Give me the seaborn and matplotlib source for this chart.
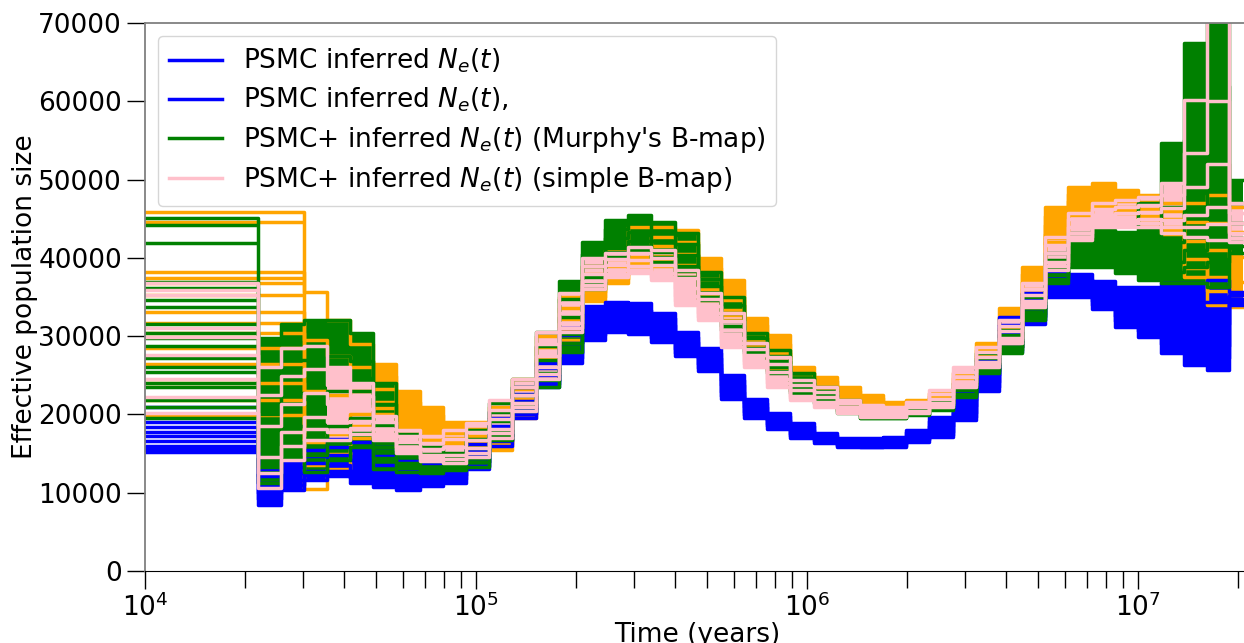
import numpy as np
import pandas as pd
import matplotlib
matplotlib.use("Agg")
import matplotlib.pyplot as plt
import seaborn as sns
from matplotlib.lines import Line2D

# --- DATA ---
# step edges in years, one more than the number of steps
EDGES = [10000, 21900, 25700, 30200, 35500, 41700, 49000, 57500, 67600, 79400,
         93300, 109600, 128800, 151400, 177800, 208900, 245500, 288400, 338800,
         398100, 467700, 549500, 645700, 758600, 891300, 1047000, 1230000,
         1445000, 1698000, 1995000, 2344000, 2754000, 3236000, 3802000, 4467000,
         5248000, 6166000, 7244000, 8511000, 10000000, 11750000, 13800000,
         16220000, 18800000, 20700000]

# one row per time step, one column per bootstrap replicate
BLUE_STEPS = [
    [15400, 16600, 17700, 18400, 19000, 15900],
    [8400, 10000, 11200, 12100, 13000, 9200],
    [10400, 11600, 12500, 13300, 14000, 11000],
    [11600, 12800, 13800, 14700, 15500, 12200],
    [12100, 13500, 14800, 15900, 16800, 12800],
    [11300, 12800, 14200, 15400, 16500, 11900],
    [10700, 12100, 13500, 14700, 15800, 11300],
    [10400, 11800, 13000, 14100, 15100, 11000],
    [10800, 11900, 12900, 13800, 14600, 11300],
    [11300, 12200, 13000, 13800, 14500, 11700],
    [13000, 13900, 14700, 15500, 16200, 13400],
    [16000, 17300, 18500, 19500, 20500, 16600],
    [19500, 20700, 21700, 22600, 23500, 20100],
    [23500, 24300, 25100, 25900, 26600, 23900],
    [26600, 27900, 29100, 30200, 31100, 27200],
    [29500, 30800, 31900, 32900, 33800, 30100],
    [30500, 31700, 32700, 33600, 34400, 31100],
    [30300, 31500, 32500, 33400, 34200, 30900],
    [29300, 30400, 31400, 32300, 33000, 29800],
    [27500, 28400, 29200, 29900, 30500, 27900],
    [25500, 26400, 27200, 27900, 28500, 25900],
    [22000, 22900, 23700, 24400, 25000, 22400],
    [19500, 20300, 21000, 21500, 22000, 19900],
    [18200, 18800, 19300, 19800, 20200, 18500],
    [17000, 17500, 18000, 18500, 18900, 17300],
    [16400, 16800, 17100, 17400, 17600, 16600],
    [15800, 16100, 16400, 16700, 17000, 16000],
    [15800, 16100, 16400, 16700, 17000, 15900],
    [15800, 16200, 16500, 16800, 17100, 16000],
    [16500, 16900, 17300, 17700, 18000, 16700],
    [17100, 17800, 18500, 19100, 19700, 17400],
    [19300, 20200, 21100, 21900, 22700, 19700],
    [23000, 24100, 25100, 26100, 27000, 23500],
    [28000, 29200, 30300, 31400, 32500, 28600],
    [31500, 32600, 33600, 34600, 35500, 32000],
    [35000, 35900, 36700, 37500, 38300, 35400],
    [35000, 35800, 36600, 37300, 38000, 35400],
    [33500, 34500, 35400, 36200, 37000, 34000],
    [31200, 32600, 33900, 35100, 36300, 31900],
    [29900, 31600, 33200, 34800, 36300, 30700],
    [27800, 30200, 32400, 34600, 36800, 29000],
    [26300, 29100, 31700, 34300, 36800, 27700],
    [25700, 28800, 31600, 34400, 37200, 27200],
    [34000, 34400, 34800, 35200, 35600, 34200],
]

ORANGE_STEPS = [
    [19900, 24000, 30400, 38200, 45900, 33100],
    [19900, 24000, 30400, 38200, 45900, 33100],
    [19900, 24000, 30400, 38200, 45900, 33100],
    [10500, 16500, 23000, 29500, 35600, 13500],
    [13000, 17500, 22500, 27500, 32000, 15000],
    [17000, 20000, 23000, 26000, 29000, 18500],
    [20000, 21600, 23200, 24900, 26500, 20800],
    [17500, 18900, 20200, 21600, 23000, 18200],
    [16700, 17800, 18900, 19900, 21000, 17200],
    [16300, 17000, 17600, 18300, 19000, 16600],
    [15500, 16400, 17200, 18100, 19000, 15900],
    [15500, 16900, 18200, 19600, 21000, 16200],
    [19500, 20700, 22000, 23200, 24500, 20100],
    [24500, 25900, 27200, 28600, 30000, 25200],
    [29500, 30900, 32200, 33600, 35000, 30200],
    [34500, 35600, 36700, 37900, 39000, 35000],
    [36800, 37800, 38900, 39900, 41000, 37300],
    [38500, 39300, 40100, 41000, 44000, 38900],
    [39000, 40200, 41500, 42700, 44000, 39600],
    [37600, 39100, 40500, 42000, 43500, 38300],
    [34600, 36000, 37300, 38700, 40000, 35300],
    [32100, 33400, 34600, 35900, 37200, 32700],
    [28600, 29500, 30400, 31400, 32300, 29000],
    [25700, 26800, 27900, 29000, 30100, 26200],
    [23100, 23800, 24600, 25300, 26100, 23400],
    [22700, 23200, 23700, 24300, 24800, 22900],
    [21500, 22000, 22500, 23000, 23500, 21700],
    [20800, 21200, 21600, 22100, 22500, 21000],
    [20300, 20600, 20900, 21300, 21600, 20400],
    [20600, 20900, 21200, 21500, 21800, 20700],
    [21500, 21800, 22100, 22400, 22700, 21600],
    [22700, 23300, 24000, 24600, 25300, 23000],
    [25700, 26500, 27400, 28200, 29100, 26100],
    [28600, 29800, 31100, 32300, 33600, 29200],
    [35000, 36000, 36900, 37900, 38800, 35500],
    [42000, 43100, 44200, 45400, 46500, 42500],
    [45500, 46400, 47200, 48100, 49000, 45900],
    [46500, 47300, 48000, 48800, 49600, 46900],
    [45700, 46500, 47200, 48000, 48700, 46100],
    [44500, 45400, 46200, 47100, 48000, 44900],
    [43000, 44000, 45000, 46000, 47000, 43500],
    [37500, 39900, 42200, 44600, 47000, 38700],
    [34000, 37500, 41000, 44500, 48000, 35800],
    [33700, 36900, 40100, 43300, 46500, 35300],
]

GREEN_STEPS = [
    [19500, 24000, 30400, 36100, 45100, 27200],
    [11200, 15500, 20000, 25000, 29800, 13300],
    [14600, 18500, 22700, 27000, 31600, 16500],
    [12600, 17000, 22000, 27000, 32000, 14800],
    [14200, 18500, 23000, 27500, 32000, 16300],
    [15800, 19500, 23000, 26800, 30400, 17600],
    [13000, 15800, 18600, 21300, 24000, 14400],
    [12600, 13800, 15000, 16300, 17500, 13200],
    [12500, 13300, 14100, 15000, 15800, 12900],
    [12900, 13500, 14000, 14600, 15100, 13200],
    [13300, 14500, 15700, 16900, 18000, 13900],
    [16700, 17900, 19100, 20300, 21500, 17300],
    [20500, 21500, 22500, 23500, 24500, 21000],
    [23500, 25300, 27000, 28800, 30500, 24400],
    [28000, 30300, 32500, 34800, 37000, 29100],
    [36000, 37500, 39000, 40500, 42000, 36700],
    [40100, 41300, 42500, 43700, 44800, 40700],
    [41000, 42100, 43300, 44400, 45500, 41500],
    [39500, 40800, 42100, 43400, 44600, 40100],
    [37600, 39000, 40400, 41800, 43200, 38300],
    [34600, 35500, 36400, 37300, 38200, 35000],
    [30800, 31900, 32900, 34000, 35000, 31300],
    [27800, 28500, 29100, 29800, 30400, 28100],
    [25300, 26000, 26800, 27500, 28200, 25600],
    [22700, 23400, 24000, 24700, 25300, 23000],
    [21500, 22000, 22500, 23000, 23500, 21700],
    [20200, 20600, 21000, 21400, 21800, 20400],
    [19500, 19800, 20000, 20300, 20600, 19600],
    [19500, 19700, 20000, 20200, 20500, 19600],
    [19900, 20100, 20400, 20600, 20900, 20000],
    [20600, 20900, 21200, 21500, 21800, 20700],
    [22200, 22600, 23100, 23500, 24000, 22400],
    [25300, 25900, 26500, 27200, 27800, 25600],
    [27800, 28600, 29300, 30100, 30800, 28200],
    [32100, 32800, 33600, 34300, 35000, 32400],
    [36800, 37800, 38700, 39700, 40600, 37300],
    [38800, 39900, 41000, 42100, 43200, 39300],
    [38800, 40000, 41200, 42300, 43500, 39400],
    [38100, 39400, 40700, 42000, 43300, 38700],
    [37200, 38900, 40600, 42300, 47000, 38000],
    [36800, 39500, 42000, 46500, 54700, 38200],
    [36800, 41000, 46000, 55000, 67400, 38800],
    [36300, 43000, 52000, 62000, 75000, 39500],
    [40600, 42500, 44500, 47000, 50000, 41500],
]

PINK_STEPS = [
    [20200, 22200, 27600, 35300, 36800, 29900],
    [10600, 14500, 18500, 22500, 26100, 12500],
    [14200, 17800, 21300, 24900, 28500, 16000],
    [16700, 19700, 22700, 25800, 28800, 18200],
    [16700, 19000, 21300, 23700, 26000, 17800],
    [17500, 19100, 20700, 22400, 24000, 18300],
    [16700, 17500, 18200, 19000, 19800, 17100],
    [15100, 15800, 16500, 17300, 18000, 15400],
    [14000, 14800, 15600, 16400, 17200, 14400],
    [13800, 14800, 15900, 16900, 18000, 14300],
    [14600, 15700, 16700, 17800, 18900, 15100],
    [17000, 18200, 19400, 20600, 21800, 17600],
    [20500, 21500, 22500, 23500, 24500, 21000],
    [24500, 26000, 27500, 29000, 30500, 25200],
    [30500, 31700, 33000, 34200, 35500, 31100],
    [36000, 37000, 38000, 39000, 40000, 36500],
    [37600, 38400, 39100, 39900, 40600, 38000],
    [38100, 38900, 39700, 40600, 41400, 38500],
    [37200, 38100, 39100, 40000, 41000, 37600],
    [34000, 35100, 36200, 37400, 38500, 34500],
    [32100, 33000, 33800, 34700, 35500, 32500],
    [28600, 29700, 30800, 31900, 33000, 29100],
    [26100, 26800, 27600, 28300, 29100, 26400],
    [23500, 24500, 25400, 26400, 27300, 24000],
    [21800, 22400, 23100, 23700, 24400, 22100],
    [21000, 21600, 22200, 22900, 23500, 21300],
    [20200, 20600, 21000, 21400, 21800, 20400],
    [19700, 20100, 20400, 20800, 21200, 19900],
    [19700, 20000, 20300, 20600, 20900, 19800],
    [20200, 20500, 20900, 21200, 21600, 20300],
    [21000, 21500, 22000, 22600, 23100, 21200],
    [23500, 24100, 24800, 25400, 26100, 23800],
    [26100, 26700, 27300, 28000, 28600, 26400],
    [29100, 29800, 30600, 31300, 32100, 29500],
    [33700, 34500, 35200, 36000, 36800, 34100],
    [38500, 39500, 40600, 41600, 42700, 39000],
    [42300, 43200, 44000, 44900, 45700, 42700],
    [44000, 44700, 45500, 46200, 47000, 44400],
    [44000, 44800, 45700, 46500, 47400, 44400],
    [44000, 44900, 45900, 46800, 47800, 44500],
    [43200, 44800, 46400, 48000, 49600, 44000],
    [42700, 45500, 49000, 53400, 60200, 44000],
    [42300, 46500, 52000, 60000, 72000, 44300],
    [42000, 43200, 44500, 45700, 47000, 42600],
]

# extra replicates that only show in the first (most recent) time step
BLUE_FIRST = [21000, 17200, 16000, 15200]
ORANGE_FIRST = [44600, 37400, 36800, 35300, 31700, 28500, 26500, 21800]
GREEN_FIRST = [44200, 41900, 36900, 34600, 33700, 31500, 29800, 28800,
               26100, 25400, 23500, 21800, 20900]
PINK_FIRST = [35900, 31000, 24500]

LABELS = [r"PSMC inferred $N_e(t)$",
          r"PSMC inferred $N_e(t)$,",
          r"PSMC+ inferred $N_e(t)$ (Murphy's B-map)",
          r"PSMC+ inferred $N_e(t)$ (simple B-map)"]

LW = 2.5
FS = 19


def long_table(steps):
    arr = np.array(steps)
    rows = []
    for r in range(arr.shape[1]):
        vals = list(arr[:, r]) + [arr[-1, r]]
        for t, v in zip(EDGES, vals):
            rows.append((t, v, r))
    return pd.DataFrame(rows, columns=["time", "ne", "rep"])


def draw_group(ax, steps, first, color, first_end, max_spread=None):
    arr = np.array(steps)
    lo, hi = arr.min(axis=1), arr.max(axis=1)
    s = EDGES.index(first_end)
    # dense replicates look like a solid band; spread-out ones stay as outlines
    for k in range(s, len(lo)):
        if max_spread is None or hi[k] - lo[k] <= max_spread:
            ax.fill_between(EDGES[k:k + 2], lo[k], hi[k], color=color, lw=0)
    sns.lineplot(data=long_table(steps), x="time", y="ne", units="rep",
                 estimator=None, sort=False, color=color, linewidth=LW,
                 drawstyle="steps-post", legend=False, ax=ax)
    ax.hlines(first, EDGES[0], first_end, color=color, lw=LW)


fig = plt.figure(figsize=(12.44, 6.43), dpi=100)
ax = fig.add_axes([145 / 1244, 72 / 643, 1105 / 1244, 548 / 643])
ax.set_xscale("log")

draw_group(ax, ORANGE_STEPS, ORANGE_FIRST, "orange", EDGES[3], max_spread=15000)
draw_group(ax, BLUE_STEPS, BLUE_FIRST, "blue", EDGES[1])
draw_group(ax, GREEN_STEPS, GREEN_FIRST, "green", EDGES[1])
draw_group(ax, PINK_STEPS, PINK_FIRST, "pink", EDGES[1], max_spread=12000)

ax.set_xlim(1e4, 2.18e7)
ax.set_ylim(0, 70000)
ax.set_yticks(range(0, 70001, 10000))
ax.set_xlabel("Time (years)", fontsize=FS, labelpad=0)
ax.set_ylabel("Effective population size", fontsize=FS, labelpad=0)
ax.tick_params(axis="both", which="major", labelsize=FS, length=13, width=1)
ax.tick_params(axis="x", which="minor", length=12, width=1)

for side in ["left", "top"]:
    ax.spines[side].set_color("#808080")
    ax.spines[side].set_linewidth(1.3)
ax.spines["right"].set_visible(False)

handles = [Line2D([0], [0], color=c, lw=LW) for c in ["blue", "blue", "green", "pink"]]
ax.legend(handles, LABELS, loc="upper left", fontsize=FS, frameon=True,
          labelspacing=0.4)

fig.savefig("out.png", dpi=100)
